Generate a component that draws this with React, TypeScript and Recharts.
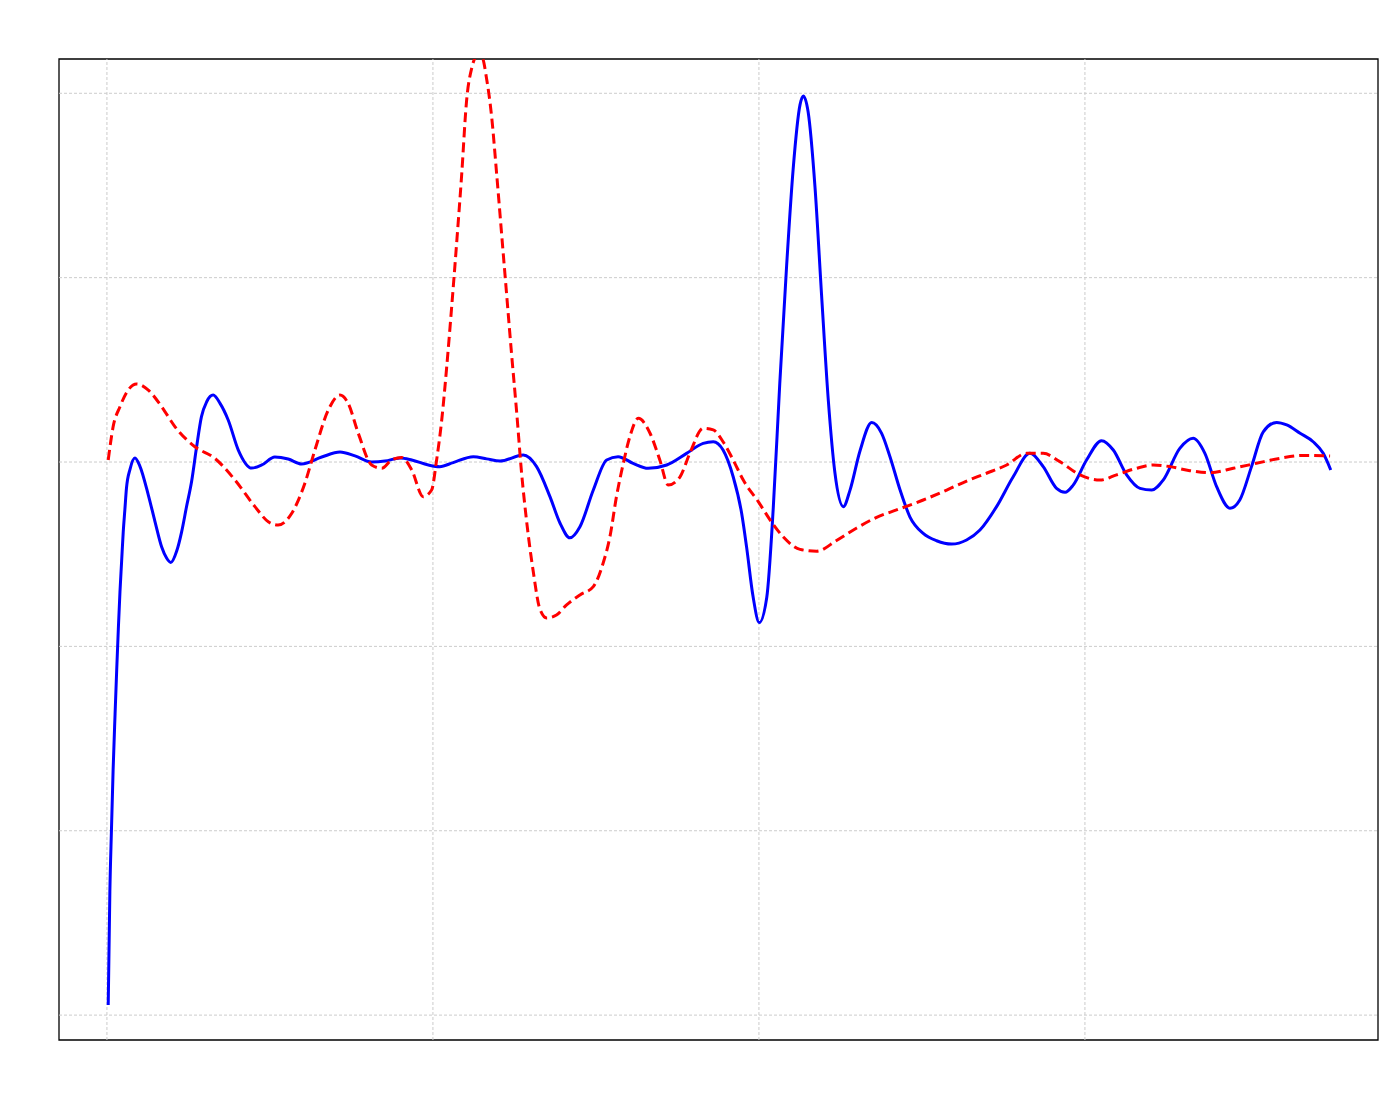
import { LineChart, Line, XAxis, YAxis, ReferenceArea, ReferenceLine } from 'recharts';

// values, x and y in grid units
const blueX = [
  0.004, 0.009, 0.014, 0.019, 0.025, 0.03, 0.035, 0.04, 0.045, 0.05, 0.055, 0.06, 0.071, 0.086, 0.101,
  0.127, 0.147, 0.168, 0.183, 0.196, 0.214, 0.229, 0.244, 0.26, 0.275, 0.29, 0.306, 0.326, 0.347, 0.372,
  0.403, 0.444, 0.475, 0.515, 0.556, 0.597, 0.659, 0.715, 0.761, 0.812, 0.853, 0.899, 0.935, 0.986, 1.021,
  1.062, 1.124, 1.165, 1.206, 1.277, 1.318, 1.359, 1.39, 1.42, 1.451, 1.492, 1.533, 1.568, 1.614, 1.66,
  1.717, 1.778, 1.829, 1.86, 1.89, 1.921, 1.947, 1.962, 1.982, 2.001, 2.024, 2.044, 2.064, 2.085, 2.105,
  2.126, 2.136, 2.151, 2.172, 2.192, 2.213, 2.233, 2.259, 2.279, 2.31, 2.346, 2.376, 2.402, 2.433, 2.463,
  2.504, 2.545, 2.591, 2.637, 2.678, 2.729, 2.78, 2.831, 2.872, 2.913, 2.939, 2.964, 3.005, 3.051, 3.087,
  3.128, 3.169, 3.205, 3.24, 3.291, 3.332, 3.368, 3.404, 3.445, 3.475, 3.511, 3.547, 3.588, 3.619, 3.66,
  3.7, 3.731, 3.754,
];
const blueY = [
  -2.945, -2.332, -1.99, -1.67, -1.367, -1.128, -0.906, -0.705, -0.542, -0.38, -0.26, -0.141, -0.038, 0.022, -0.022,
  -0.179, -0.32, -0.461, -0.521, -0.545, -0.483, -0.38, -0.244, -0.103, 0.081, 0.246, 0.327, 0.363, 0.318, 0.228,
  0.065, -0.033, -0.016, 0.027, 0.016, -0.011, 0.027, 0.054, 0.033, 0, 0.005, 0.022, 0.011, -0.016, -0.025,
  -0.003, 0.029, 0.017, 0.005, 0.038, -0.025, -0.188, -0.332, -0.411, -0.351, -0.152, 0.011, 0.029, -0.007, -0.034,
  -0.016, 0.047, 0.101, 0.11, 0.065, -0.08, -0.278, -0.459, -0.73, -0.871, -0.735, -0.249, 0.428, 1.066, 1.589,
  1.937, 1.985, 1.898, 1.491, 0.911, 0.331, -0.057, -0.242, -0.155, 0.06, 0.214, 0.157, 0.029, -0.152, -0.297,
  -0.387, -0.427, -0.445, -0.423, -0.369, -0.242, -0.08, 0.047, -0.025, -0.143, -0.164, -0.125, 0.011, 0.116, 0.065,
  -0.07, -0.143, -0.152, -0.098, 0.074, 0.129, 0.047, -0.134, -0.251, -0.206, -0.025, 0.164, 0.215, 0.201, 0.156,
  0.11, 0.047, -0.043,
];

const redX = [
  0.004, 0.019, 0.04, 0.065, 0.091, 0.127, 0.168, 0.209, 0.27, 0.331, 0.393, 0.454, 0.495, 0.525, 0.567,
  0.607, 0.638, 0.679, 0.715, 0.74, 0.771, 0.812, 0.843, 0.873, 0.904, 0.935, 0.97, 0.996, 1.011, 1.027,
  1.042, 1.057, 1.073, 1.088, 1.103, 1.119, 1.134, 1.15, 1.165, 1.18, 1.195, 1.211, 1.226, 1.241, 1.257,
  1.272, 1.287, 1.308, 1.328, 1.349, 1.379, 1.41, 1.451, 1.492, 1.522, 1.543, 1.563, 1.584, 1.604, 1.63,
  1.666, 1.696, 1.722, 1.758, 1.788, 1.829, 1.86, 1.89, 1.921, 1.952, 1.998, 2.04, 2.075, 2.126, 2.177,
  2.238, 2.3, 2.361, 2.422, 2.504, 2.576, 2.637, 2.698, 2.76, 2.821, 2.872, 2.923, 2.985, 3.046, 3.097,
  3.158, 3.209, 3.261, 3.322, 3.383, 3.455, 3.526, 3.598, 3.669, 3.752,
];
const redY = [
  0.011, 0.191, 0.3, 0.39, 0.423, 0.39, 0.3, 0.191, 0.083, 0.02, -0.098, -0.242, -0.324, -0.342, -0.278,
  -0.116, 0.065, 0.282, 0.363, 0.318, 0.156, -0.016, -0.034, 0.011, 0.025, -0.043, -0.188, -0.152, 0.007, 0.228,
  0.51, 0.83, 1.193, 1.553, 1.955, 2.137, 2.196, 2.196, 2.075, 1.875, 1.573, 1.231, 0.911, 0.591, 0.268,
  -0.06, -0.315, -0.597, -0.797, -0.846, -0.83, -0.775, -0.721, -0.676, -0.549, -0.405, -0.188, -0.007, 0.137, 0.237,
  0.156, 0.011, -0.125, -0.08, 0.047, 0.183, 0.174, 0.11, 0.011, -0.098, -0.215, -0.329, -0.407, -0.474, -0.484,
  -0.426, -0.358, -0.3, -0.26, -0.206, -0.152, -0.103, -0.061, -0.016, 0.047, 0.047, 0.002, -0.07, -0.098, -0.07,
  -0.034, -0.016, -0.025, -0.047, -0.058, -0.034, -0.007, 0.02, 0.036, 0.033,
];

const xTicks = [0, 1, 2, 3];
const yTicks = [-3, -2, -1, 0, 1, 2];

const X_MIN = -0.147;
const X_MAX = 3.899;
const Y_MIN = -3.135;
const Y_MAX = 2.186;

const blueData = blueX.map((x, i) => ({ x, y: blueY[i] }));
const redData = redX.map((x, i) => ({ x, y: redY[i] }));

export default function App() {
  return (
    <LineChart width={1384} height={1084} margin={{ top: 51, left: 51, right: 14, bottom: 52 }}>
      <XAxis
        type="number"
        dataKey="x"
        domain={[X_MIN, X_MAX]}
        allowDataOverflow
        ticks={xTicks}
        tick={false}
        tickLine={false}
        axisLine={false}
        height={0}
      />
      <YAxis
        type="number"
        dataKey="y"
        domain={[Y_MIN, Y_MAX]}
        allowDataOverflow
        ticks={yTicks}
        tick={false}
        tickLine={false}
        axisLine={false}
        width={0}
      />
      {/* grid drawn as reference lines at the tick values */}
      {xTicks.map((t) => (
        <ReferenceLine key={`gx${t}`} x={t} stroke="#cccccc" strokeWidth={1} strokeDasharray="3 2" />
      ))}
      {yTicks.map((t) => (
        <ReferenceLine key={`gy${t}`} y={t} stroke="#cccccc" strokeWidth={1} strokeDasharray="3 2" />
      ))}
      <Line
        data={blueData}
        dataKey="y"
        type="monotone"
        stroke="#0000ff"
        strokeWidth={3}
        dot={false}
        activeDot={false}
        isAnimationActive={false}
      />
      <Line
        data={redData}
        dataKey="y"
        type="monotone"
        stroke="#ff0000"
        strokeWidth={3}
        strokeDasharray="10 5"
        dot={false}
        activeDot={false}
        isAnimationActive={false}
      />
      <ReferenceArea x1={X_MIN} x2={X_MAX} y1={Y_MIN} y2={Y_MAX} fill="none" stroke="#000000" strokeWidth={1.3} />
    </LineChart>
  );
}
